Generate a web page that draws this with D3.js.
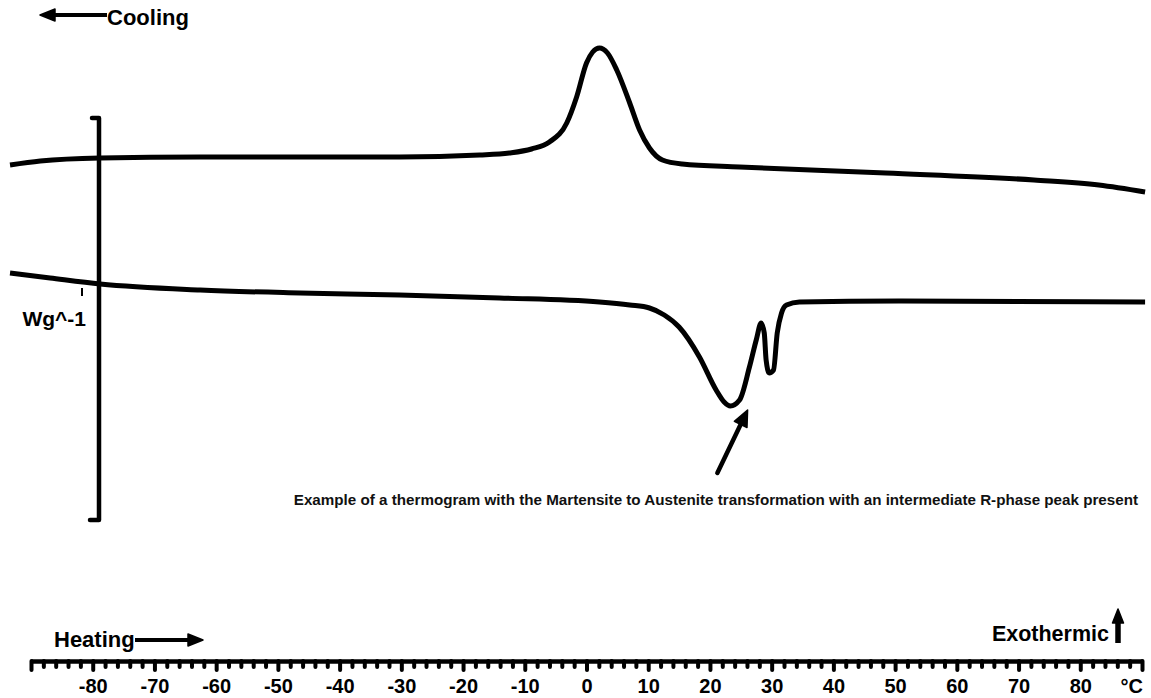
<!DOCTYPE html>
<html>
<head>
<meta charset="utf-8">
<script src="https://cdn.jsdelivr.net/npm/d3@7"></script>
<style>
  html, body { margin: 0; padding: 0; background: #fff; }
  svg { display: block; font-family: "Liberation Sans", Arial, sans-serif; }
</style>
</head>
<body>
<svg id="chart" width="1151" height="698"></svg>
<script>
// ---- Data (temperature in °C, heat flow in arbitrary W/g units) ----
const coolingTemps = [-93.4, -88.5, -78.8, -62.6, -41.1, -30.3, -17.3, -12.5, -8.9, -6.0, -3.2, -1.6, 0.0, 1.0, 2.1, 3.4, 4.9, 7.0, 8.6, 10.2, 12.3, 15.5, 24.8, 48.5, 72.5, 83.0, 90.5];
const coolingFlow  = [4.95, 4.99, 5.02, 5.03, 5.03, 5.03, 5.05, 5.07, 5.11, 5.18, 5.37, 5.63, 5.97, 6.08, 6.12, 6.07, 5.90, 5.57, 5.30, 5.12, 5.00, 4.96, 4.93, 4.87, 4.80, 4.75, 4.68];

const heatingTemps = [-93.4, -86.9, -78.8, -62.6, -46.4, -30.3, -14.1, 2.1, 7.0, 10.2, 12.6, 15.0, 18.3, 21.0, 22.3, 23.3, 24.8, 26.4, 27.5, 28.3, 28.8, 29.1, 29.6, 30.3, 30.9, 31.6, 32.4, 34.5, 50.6, 90.5];
const heatingFlow  = [3.87, 3.82, 3.76, 3.70, 3.67, 3.65, 3.62, 3.58, 3.55, 3.52, 3.45, 3.33, 3.03, 2.70, 2.58, 2.54, 2.60, 2.93, 3.20, 3.37, 3.27, 3.00, 2.87, 2.90, 3.27, 3.47, 3.55, 3.58, 3.59, 3.58];

const minorTicks = d3.range(-90, 91, 2);
const labelTicks = [-80, -70, -60, -50, -40, -30, -20, -10, 0, 10, 20, 30, 40, 50, 60, 70, 80];
const unitLabel = "°C";
const annotationText = "Example of a thermogram with the Martensite to Austenite transformation with an intermediate R-phase peak present";
const annotationTip  = [26.1, 2.50];
const annotationTail = [21.2, 1.87];
const scaleBar = [1.40, 5.43]; // flow range of the bracket

// ---- Scales ----
const svg = d3.select("#chart");
const x = d3.scaleLinear().domain([-90, 90]).range([31, 1142]);
const y = d3.scaleLinear().domain([0, 6.6]).range([660, 0]);

const line = d3.line().x(d => x(d[0])).y(d => y(d[1])).curve(d3.curveMonotoneX);

// ---- Curves ----
const coolData = coolingTemps.map((t, i) => [t, coolingFlow[i]]);
const heatData = heatingTemps.map((t, i) => [t, heatingFlow[i]]);

svg.append("path").datum(coolData).attr("d", line)
  .attr("fill", "none").attr("stroke", "#000").attr("stroke-width", 5)
  .attr("stroke-linejoin", "round").attr("stroke-linecap", "butt");
svg.append("path").datum(heatData).attr("d", line)
  .attr("fill", "none").attr("stroke", "#000").attr("stroke-width", 5)
  .attr("stroke-linejoin", "round").attr("stroke-linecap", "butt");

// ---- Scale bracket ----
const bx = 99;
const yTop = y(scaleBar[1]), yBot = y(scaleBar[0]);
svg.append("path")
  .attr("d", `M${bx - 7},${yTop + 1} L${bx},${yTop + 1} L${bx},${yBot} L${bx - 9},${yBot}`)
  .attr("fill", "none").attr("stroke", "#000").attr("stroke-width", 4.5)
  .attr("stroke-linejoin", "round").attr("stroke-linecap", "round");
svg.append("line").attr("x1", 82).attr("x2", 82).attr("y1", 288).attr("y2", 296)
  .attr("stroke", "#000").attr("stroke-width", 2);
svg.append("text").attr("x", 86).attr("y", 326).attr("text-anchor", "end")
  .attr("font-size", 21).attr("font-weight", "bold").text("Wg^-1");

// ---- X axis ----
const axis = d3.axisBottom(x).tickValues(minorTicks)
  .tickSize(0).tickFormat("");
const gx = svg.append("g").attr("transform", "translate(0,661)").call(axis);
gx.select(".domain").attr("stroke", "#000").attr("stroke-width", 4.5);
gx.selectAll(".tick line")
  .attr("y2", d => (d % 10 === 0 ? 9 : 6))
  .attr("stroke", "#000").attr("stroke-width", 4).attr("stroke-linecap", "round");
gx.selectAll(".tick")
  .filter(d => labelTicks.includes(d))
  .append("text")
  .attr("y", 32).attr("fill", "#000")
  .attr("font-size", 20).attr("font-weight", "bold").attr("text-anchor", "middle")
  .text(d => d);
svg.append("text").attr("x", x(90) + 1).attr("y", 693).attr("text-anchor", "end")
  .attr("font-size", 20).attr("font-weight", "bold").text(unitLabel);

// ---- Direction labels ----
function arrowHead(tip, dir, len, half) {
  const bx0 = tip[0] - dir[0] * len, by0 = tip[1] - dir[1] * len;
  const px = -dir[1], py = dir[0];
  return `M${tip[0]},${tip[1]} L${bx0 + px * half},${by0 + py * half} L${bx0 - px * half},${by0 - py * half} Z`;
}

// Cooling
svg.append("line").attr("x1", 50).attr("x2", 107).attr("y1", 15).attr("y2", 15)
  .attr("stroke", "#000").attr("stroke-width", 4);
svg.append("path").attr("d", arrowHead([40, 15], [-1, 0], 15, 6)).attr("fill", "#000")
  .attr("stroke", "#000").attr("stroke-width", 1.5).attr("stroke-linejoin", "round");
svg.append("text").attr("x", 107).attr("y", 25).attr("font-size", 22).attr("font-weight", "bold").text("Cooling");

// Heating
svg.append("text").attr("x", 54).attr("y", 647).attr("font-size", 22).attr("font-weight", "bold").text("Heating");
svg.append("line").attr("x1", 135).attr("x2", 192).attr("y1", 640).attr("y2", 640)
  .attr("stroke", "#000").attr("stroke-width", 4);
svg.append("path").attr("d", arrowHead([203, 640], [1, 0], 15, 6)).attr("fill", "#000")
  .attr("stroke", "#000").attr("stroke-width", 1.5).attr("stroke-linejoin", "round");

// Exothermic
svg.append("text").attr("x", 1109).attr("y", 641).attr("text-anchor", "end")
  .attr("font-size", 21.5).attr("font-weight", "bold").text("Exothermic");
svg.append("line").attr("x1", 1118).attr("x2", 1118).attr("y1", 643).attr("y2", 620)
  .attr("stroke", "#000").attr("stroke-width", 5.5);
svg.append("path").attr("d", arrowHead([1118, 609], [0, -1], 14, 5.5)).attr("fill", "#000")
  .attr("stroke", "#000").attr("stroke-width", 1.5).attr("stroke-linejoin", "round");

// ---- Annotation ----
const tip = [x(annotationTip[0]), y(annotationTip[1])];
const tail = [x(annotationTail[0]), y(annotationTail[1])];
const dx = tip[0] - tail[0], dy = tip[1] - tail[1];
const L = Math.hypot(dx, dy);
const dir = [dx / L, dy / L];
svg.append("line").attr("x1", tail[0]).attr("y1", tail[1])
  .attr("x2", tip[0] - dir[0] * 10).attr("y2", tip[1] - dir[1] * 10)
  .attr("stroke", "#000").attr("stroke-width", 4.5).attr("stroke-linecap", "round");
svg.append("path").attr("d", arrowHead(tip, dir, 16, 7)).attr("fill", "#000")
  .attr("stroke", "#000").attr("stroke-width", 1.5).attr("stroke-linejoin", "round");

svg.append("text").attr("x", 1138).attr("y", 505).attr("text-anchor", "end")
  .attr("font-size", 15.2).attr("font-weight", "bold").attr("fill", "#111").text(annotationText);
</script>
</body>
</html>
